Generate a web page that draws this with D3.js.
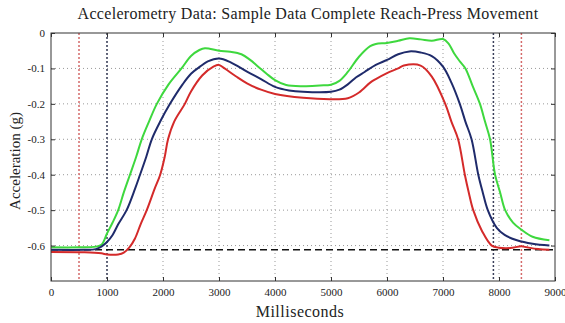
<!DOCTYPE html>
<html>
<head>
<meta charset="utf-8">
<script src="https://cdn.jsdelivr.net/npm/d3@7"></script>
<style>
  body { margin: 0; background: #fff; }
  text { font-family: "Liberation Serif", "DejaVu Serif", serif; fill: #222; }
</style>
</head>
<body>
<div id="chart"></div>
<script>
// chart data: [ms, g]
const greenData = [
  [0, -0.605], [500, -0.605], [800, -0.603], [900, -0.598], [1000, -0.566], [1100, -0.535],
  [1200, -0.5], [1300, -0.45], [1410, -0.4], [1520, -0.35], [1620, -0.3], [1750, -0.25],
  [1890, -0.2], [2100, -0.145], [2330, -0.1], [2500, -0.065], [2650, -0.048], [2750, -0.043],
  [3000, -0.05], [3200, -0.053], [3400, -0.06], [3550, -0.075], [3700, -0.095], [3850, -0.115],
  [4000, -0.133], [4200, -0.147], [4500, -0.15], [4800, -0.148], [5000, -0.146], [5150, -0.135],
  [5300, -0.11], [5500, -0.067], [5700, -0.037], [5800, -0.031], [6000, -0.028], [6200, -0.022],
  [6400, -0.015], [6600, -0.018], [6800, -0.022], [7000, -0.017], [7100, -0.03], [7200, -0.058],
  [7300, -0.08], [7400, -0.1], [7530, -0.15], [7660, -0.2], [7750, -0.25], [7840, -0.3],
  [7930, -0.4], [8020, -0.45], [8110, -0.5], [8250, -0.535], [8400, -0.555], [8600, -0.575],
  [8900, -0.585]
];
const blueData = [
  [0, -0.612], [600, -0.612], [800, -0.61], [900, -0.603], [1000, -0.59], [1100, -0.57],
  [1200, -0.54], [1350, -0.5], [1500, -0.44], [1590, -0.4], [1700, -0.35], [1800, -0.3],
  [1950, -0.25], [2125, -0.2], [2350, -0.145], [2500, -0.115], [2660, -0.095], [2800, -0.08],
  [3000, -0.072], [3200, -0.082], [3500, -0.109], [3750, -0.13], [4000, -0.152], [4250, -0.162],
  [4500, -0.166], [5000, -0.166], [5150, -0.16], [5300, -0.145], [5450, -0.125], [5600, -0.11],
  [5800, -0.09], [6000, -0.076], [6200, -0.06], [6400, -0.052], [6600, -0.055], [6800, -0.065],
  [7000, -0.095], [7150, -0.14], [7300, -0.2], [7400, -0.25], [7510, -0.3], [7630, -0.4],
  [7710, -0.45], [7800, -0.5], [7960, -0.55], [8100, -0.57], [8320, -0.585], [8600, -0.595],
  [8900, -0.6]
];
const redData = [
  [0, -0.618], [600, -0.619], [900, -0.622], [1000, -0.625], [1200, -0.625], [1300, -0.62],
  [1400, -0.605], [1500, -0.58], [1600, -0.54], [1710, -0.5], [1850, -0.44], [1950, -0.4],
  [2030, -0.35], [2090, -0.3], [2200, -0.25], [2390, -0.2], [2500, -0.165], [2700, -0.12],
  [2900, -0.095], [3000, -0.09], [3100, -0.1], [3300, -0.122], [3500, -0.142], [3750, -0.16],
  [4000, -0.172], [4500, -0.183], [5000, -0.187], [5300, -0.184], [5500, -0.168], [5700, -0.14],
  [5800, -0.13], [6000, -0.113], [6200, -0.1], [6300, -0.092], [6600, -0.092], [6800, -0.123],
  [7040, -0.2], [7150, -0.25], [7270, -0.3], [7390, -0.4], [7460, -0.45], [7540, -0.5],
  [7700, -0.56], [7870, -0.6], [8000, -0.606], [8200, -0.607], [8400, -0.602], [8500, -0.605],
  [8700, -0.61], [8900, -0.612]
];
const baseline = -0.612;
const redMarkers = [500, 8400];
const darkMarkers = [1000, 7900];
const xTicks = [0, 1000, 2000, 3000, 4000, 5000, 6000, 7000, 8000, 9000];
const yTicks = [0, -0.1, -0.2, -0.3, -0.4, -0.5, -0.6, -0.7];

const W = 565, H = 323;
const margin = { top: 33, right: 10, bottom: 42, left: 51 },
  width = W - margin.left - margin.right,
  height = H - margin.top - margin.bottom;

const x = d3.scaleLinear().domain([0, 9000]).range([0, width]);
const y = d3.scaleLinear().domain([-0.7, 0]).range([height, 0]);

const svg = d3.select('#chart').append('svg')
  .attr('width', W)
  .attr('height', H);

const g = svg.append('g')
  .attr('transform', `translate(${margin.left},${margin.top})`);

// grid
g.append('g')
  .selectAll('line')
  .data(xTicks.slice(1, -1))
  .join('line')
  .attr('x1', d => x(d)).attr('x2', d => x(d))
  .attr('y1', 0).attr('y2', height)
  .attr('stroke', '#999').attr('stroke-width', 1)
  .attr('stroke-dasharray', '1,3');

g.append('g')
  .selectAll('line')
  .data(yTicks.slice(1, -1))
  .join('line')
  .attr('x1', 0).attr('x2', width)
  .attr('y1', d => y(d)).attr('y2', d => y(d))
  .attr('stroke', '#999').attr('stroke-width', 1)
  .attr('stroke-dasharray', '1,3');

// event markers
g.append('g')
  .selectAll('line')
  .data(redMarkers)
  .join('line')
  .attr('x1', d => x(d)).attr('x2', d => x(d))
  .attr('y1', 0).attr('y2', height)
  .attr('stroke', '#d46a6a').attr('stroke-width', 1.5)
  .attr('stroke-dasharray', '2,2');

g.append('g')
  .selectAll('line')
  .data(darkMarkers)
  .join('line')
  .attr('x1', d => x(d)).attr('x2', d => x(d))
  .attr('y1', 0).attr('y2', height)
  .attr('stroke', '#3a3f5a').attr('stroke-width', 1.5)
  .attr('stroke-dasharray', '2,2');

// baseline
g.append('line')
  .attr('x1', 0).attr('x2', width)
  .attr('y1', y(baseline)).attr('y2', y(baseline))
  .attr('stroke', '#111').attr('stroke-width', 1.5)
  .attr('stroke-dasharray', '7,4');

const line = d3.line()
  .x(d => x(d[0]))
  .y(d => y(d[1]))
  .curve(d3.curveCatmullRom.alpha(0.5));

[[greenData, '#3ed83e'], [blueData, '#1f2b6b'], [redData, '#d42a2a']].forEach(function (s) {
  g.append('path')
    .datum(s[0])
    .attr('fill', 'none')
    .attr('stroke', s[1])
    .attr('stroke-width', 2)
    .attr('d', line);
});

// axes
const xAxis = d3.axisBottom(x).tickValues(xTicks).tickSize(-4).tickPadding(7).tickFormat(d3.format('d'));
const yAxis = d3.axisLeft(y).tickValues(yTicks.slice(0, -1)).tickSize(-4).tickPadding(6)
  .tickFormat(d => d === 0 ? '0' : d3.format('.1f')(d).replace('−', '-'));

const xa = g.append('g').attr('transform', `translate(0,${height})`).call(xAxis);
const ya = g.append('g').call(yAxis);
[xa, ya].forEach(a => {
  a.attr('font-family', null).attr('font-size', null);
  a.select('.domain').remove();
  a.selectAll('line').attr('stroke', '#333');
  a.selectAll('text').style('font-family', '"Liberation Serif", serif').style('font-size', '11px').attr('fill', '#333');
});

// right / top tick marks
g.append('g').attr('transform', `translate(${width},0)`)
  .call(d3.axisRight(y).tickValues(yTicks.slice(0, -1)).tickSize(-4).tickFormat(''))
  .call(a => { a.select('.domain').remove(); a.selectAll('line').attr('stroke', '#333'); });
g.append('g')
  .call(d3.axisTop(x).tickValues(xTicks).tickSize(-4).tickFormat(''))
  .call(a => { a.select('.domain').remove(); a.selectAll('line').attr('stroke', '#333'); });

// frame
g.append('rect')
  .attr('width', width).attr('height', height)
  .attr('fill', 'none').attr('stroke', '#333').attr('stroke-width', 1);

// labels
svg.append('text')
  .attr('x', 308)
  .attr('y', 19)
  .attr('text-anchor', 'middle')
  .style('font-size', '16px')
  .style('letter-spacing', '0.3px')
  .text('Accelerometry Data: Sample Data Complete Reach-Press Movement');

svg.append('text')
  .attr('x', 300)
  .attr('y', 317)
  .attr('text-anchor', 'middle')
  .style('font-size', '16px')
  .style('letter-spacing', '0.5px')
  .text('Milliseconds');

svg.append('text')
  .attr('transform', 'translate(20,161) rotate(-90)')
  .attr('text-anchor', 'middle')
  .style('font-size', '15px')
  .text('Acceleration (g)');
</script>
</body>
</html>
